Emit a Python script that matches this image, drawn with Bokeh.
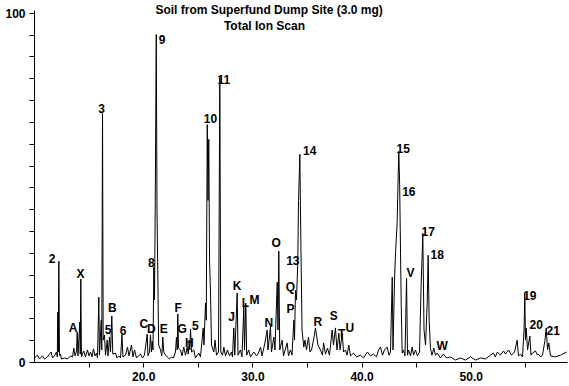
from bokeh.plotting import figure
from bokeh.models import FixedTicker, Label, ColumnDataSource, Range1d
from bokeh.core.properties import value
from bokeh.embed import file_html
from bokeh.resources import INLINE

# Total ion chromatogram trace: retention time (min) and relative intensity (%)
time_min = [
    10.00, 10.27, 10.46, 10.73, 10.92, 11.19, 11.37, 11.53, 11.65, 11.83,
    12.01, 12.09, 12.13, 12.18, 12.23, 12.29, 12.38, 12.47, 12.75, 13.02,
    13.30, 13.48, 13.60, 13.71, 13.85, 13.91, 13.98, 14.15, 14.19, 14.24,
    14.30, 14.51, 14.67, 14.85, 14.99, 15.13, 15.27, 15.40, 15.54, 15.68,
    15.77, 15.89, 15.95, 16.11, 16.16, 16.23, 16.29, 16.41, 16.50, 16.66,
    16.73, 16.87, 16.96, 17.08, 17.17, 17.42, 17.55, 17.72, 17.88, 18.01,
    18.10, 18.33, 18.52, 18.65, 18.88, 19.02, 19.16, 19.34, 19.52, 19.71,
    19.89, 20.07, 20.32, 20.39, 20.53, 20.62, 20.71, 20.78, 20.85, 20.93,
    20.99, 21.06, 21.15, 21.22, 21.29, 21.37, 21.54, 21.66, 21.75, 21.84,
    22.00, 22.15, 22.36, 22.55, 22.73, 22.91, 23.00, 23.07, 23.12, 23.19,
    23.37, 23.51, 23.67, 23.83, 23.98, 24.08, 24.17, 24.22, 24.29, 24.38,
    24.59, 24.74, 25.05, 25.20, 25.45, 25.52, 25.66, 25.73, 25.82, 25.89,
    25.96, 26.03, 26.12, 26.21, 26.42, 26.53, 26.67, 26.85, 26.97, 27.06,
    27.22, 27.34, 27.49, 27.67, 27.86, 28.04, 28.13, 28.25, 28.34, 28.56,
    28.64, 28.86, 29.00, 29.17, 29.23, 29.35, 29.43, 29.62, 29.78, 30.08,
    30.33, 30.51, 30.70, 30.83, 31.06, 31.31, 31.38, 31.61, 31.70, 31.92,
    32.02, 32.23, 32.30, 32.37, 32.46, 32.68, 32.80, 33.14, 33.26, 33.44,
    33.58, 33.75, 33.81, 33.90, 33.99, 34.11, 34.18, 34.30, 34.39, 34.50,
    34.66, 34.77, 34.91, 35.09, 35.23, 35.37, 35.55, 35.73, 35.96, 36.19,
    36.37, 36.47, 36.65, 36.83, 37.01, 37.26, 37.38, 37.56, 37.70, 37.87,
    37.98, 38.18, 38.30, 38.48, 38.62, 38.78, 38.94, 39.21, 39.49, 39.85,
    40.13, 40.49, 40.77, 41.04, 41.32, 41.50, 41.68, 41.87, 42.05, 42.30,
    42.46, 42.60, 42.76, 42.83, 42.97, 43.06, 43.21, 43.29, 43.36, 43.44,
    43.52, 43.58, 43.67, 43.79, 43.93, 44.07, 44.16, 44.25, 44.43, 44.59,
    44.71, 44.89, 45.07, 45.26, 45.41, 45.50, 45.56, 45.67, 45.81, 45.96,
    46.05, 46.14, 46.26, 46.40, 46.57, 46.72, 46.88, 47.18, 47.45, 47.73,
    48.10, 48.55, 49.01, 49.47, 49.93, 50.38, 50.84, 51.30, 51.76, 52.03,
    52.20, 52.39, 52.66, 52.95, 53.13, 53.41, 53.68, 53.96, 54.20, 54.32,
    54.51, 54.69, 54.83, 54.90, 54.96, 55.03, 55.15, 55.36, 55.47, 55.60,
    55.88, 56.06, 56.15, 56.34, 56.52, 56.75, 56.86, 56.98, 57.10, 57.25,
    57.71, 58.17, 58.72,
]
intensity = [
    1.3, 2.1, 1.0, 1.9, 1.0, 1.6, 2.4, 3.0, 1.3, 1.9,
    3.0, 1.6, 14.4, 3.0, 29.0, 1.9, 2.4, 1.0, 1.3, 1.0,
    1.9, 1.6, 4.1, 1.9, 3.3, 8.7, 1.9, 11.6, 2.4, 23.9,
    1.6, 3.3, 1.6, 3.6, 1.9, 3.0, 1.6, 3.9, 1.9, 2.7,
    1.3, 18.7, 2.1, 12.1, 3.6, 71.3, 6.4, 7.9, 2.1, 6.4,
    1.9, 7.3, 3.0, 13.3, 2.4, 2.7, 1.3, 1.9, 1.3, 7.9,
    1.6, 2.1, 4.4, 1.9, 5.0, 1.6, 3.6, 1.3, 1.9, 2.4,
    1.3, 2.1, 8.1, 1.9, 3.0, 7.9, 3.0, 6.1, 3.6, 27.3,
    17.9, 46.4, 93.9, 43.6, 25.6, 5.0, 3.6, 1.9, 7.3, 3.0,
    2.1, 1.6, 1.0, 1.6, 1.3, 3.0, 7.3, 3.6, 13.9, 4.1,
    3.6, 1.9, 4.4, 2.1, 4.4, 2.4, 6.4, 3.6, 9.6, 3.0,
    3.6, 1.3, 2.7, 1.6, 9.9, 5.0, 17.0, 12.1, 68.1, 46.4,
    63.9, 29.3, 19.9, 5.0, 3.0, 6.4, 2.1, 3.0, 81.6, 3.0,
    2.1, 4.4, 1.9, 3.6, 1.9, 3.0, 1.6, 9.9, 2.1, 19.9,
    2.1, 3.6, 1.6, 15.9, 3.6, 17.0, 2.1, 3.6, 1.6, 3.0,
    1.9, 2.7, 4.4, 1.9, 5.0, 9.3, 3.6, 10.1, 3.0, 7.3,
    3.6, 23.0, 9.3, 31.9, 3.6, 6.4, 1.9, 5.6, 1.9, 3.6,
    2.1, 12.1, 6.4, 20.7, 17.9, 28.4, 46.4, 59.6, 35.0, 9.3,
    4.4, 6.4, 3.6, 7.3, 3.0, 3.6, 6.4, 9.9, 5.0, 3.6,
    2.1, 5.6, 2.4, 4.1, 2.1, 9.3, 5.0, 9.9, 3.6, 8.4,
    3.6, 8.4, 3.0, 3.6, 2.1, 5.0, 1.9, 2.7, 1.6, 2.1,
    1.3, 3.0, 1.9, 2.4, 1.6, 3.6, 4.4, 2.1, 3.6, 4.4,
    2.1, 3.0, 24.4, 3.6, 23.6, 31.3, 39.9, 51.6, 60.4, 50.7,
    31.3, 17.0, 2.7, 3.6, 1.9, 24.1, 2.1, 3.6, 1.9, 4.4,
    2.1, 3.6, 1.9, 3.0, 22.7, 30.7, 37.0, 9.3, 5.0, 17.0,
    30.7, 12.1, 4.1, 2.1, 4.1, 2.1, 2.7, 1.3, 2.4, 1.3,
    1.6, 0.7, 1.3, 0.7, 1.6, 0.7, 1.3, 1.0, 2.1, 2.7,
    1.6, 3.0, 2.1, 3.3, 2.4, 3.6, 2.1, 3.0, 6.4, 1.9,
    2.4, 1.6, 9.3, 19.9, 6.4, 9.9, 3.6, 7.6, 2.1, 2.7,
    3.3, 2.1, 2.4, 1.6, 2.1, 6.4, 9.9, 3.6, 5.6, 1.9,
    1.6, 2.1, 3.0,
]

# Peak annotations
peak_labels = ["2", "X", "3", "9", "8", "A", "B", "5", "6", "C", "D", "E", "F", "G",
               "5", "H", "10", "11", "14", "O", "13", "Q", "P", "K", "L", "M", "J",
               "N", "R", "S", "T", "U", "15", "16", "17", "18", "V", "W", "19", "20", "21"]
label_time = [11.62, 14.21, 16.14, 21.69, 20.71, 13.54, 17.12, 16.75, 18.12, 20.01,
              20.69, 21.84, 23.16, 23.53, 24.74, 24.19, 26.12, 27.34, 35.21, 32.13,
              33.66, 33.44, 33.44, 28.56, 29.32, 30.15, 28.04, 31.46, 35.94, 37.41,
              38.12, 38.88, 43.77, 44.28, 46.05, 46.88, 44.43, 47.34, 55.36, 55.94, 57.50]
label_int = [29.8, 25.2, 72.6, 92.6, 28.5, 9.8, 15.5, 9.5, 9.3, 10.9,
             9.5, 9.5, 15.7, 9.5, 10.7, 5.5, 69.8, 81.0, 60.7, 34.2,
             29.3, 21.5, 15.2, 21.9, 16.9, 17.9, 12.9, 11.2, 11.7, 13.3,
             8.1, 9.8, 61.2, 49.0, 37.4, 31.0, 25.5, 4.7, 19.3, 11.0, 9.3]

x_major_ticks = [20, 30, 40, 50]
x_minor_ticks = [15, 25, 35, 45, 55]
y_major_ticks = [0, 100]
y_minor_ticks = [6.25, 12.5, 18.75, 25, 31.25, 37.5, 43.75, 50, 56.25,
                 62.5, 68.75, 75, 81.25, 87.5, 93.75]

title_text = "Soil from Superfund Dump Site (3.0 mg)"
subtitle_text = "Total Ion Scan"

FONT = "Liberation Sans"

p = figure(width=569, height=386, output_backend="svg", toolbar_location=None,
           x_range=Range1d(10, 58.81), y_range=Range1d(0, 103.64),
           min_border_left=34, min_border_right=2, min_border_top=0,
           min_border_bottom=24)
p.background_fill_color = "white"
p.border_fill_color = "white"
p.outline_line_color = None
p.grid.visible = False

p.line(time_min, intensity, line_color="black", line_width=1, line_join="round")

src = ColumnDataSource(dict(x=label_time, y=label_int, t=peak_labels))
p.text(x="x", y="y", text="t", source=src, text_font=value(FONT),
       text_font_style="bold", text_font_size="12px", text_color="black",
       text_align="center", text_baseline="middle")

p.add_layout(Label(x=31.48, y=100.9, text=title_text, text_align="center",
                   text_baseline="middle", text_font=FONT, text_font_style="bold",
                   text_font_size="12px", text_color="black"))
p.add_layout(Label(x=31.06, y=96.2, text=subtitle_text, text_align="center",
                   text_baseline="middle", text_font=FONT, text_font_style="bold",
                   text_font_size="12px", text_color="black"))

for ax in (p.xaxis[0], p.yaxis[0]):
    ax.axis_line_color = "black"
    ax.axis_line_width = 1
    ax.major_tick_line_color = "black"
    ax.minor_tick_line_color = "black"
    ax.major_tick_in = 0
    ax.minor_tick_in = 0
    ax.major_label_text_font = FONT
    ax.major_label_text_font_style = "bold"
    ax.major_label_text_font_size = "12px"
    ax.major_label_text_color = "black"

p.xaxis.ticker = FixedTicker(ticks=x_major_ticks, minor_ticks=x_minor_ticks)
p.xaxis.major_label_overrides = {v: f"{v:.1f}" for v in x_major_ticks}
p.xaxis.major_tick_out = 5
p.xaxis.minor_tick_out = 5
p.xaxis.major_label_standoff = 4

p.yaxis.ticker = FixedTicker(ticks=y_major_ticks, minor_ticks=y_minor_ticks)
p.yaxis.bounds = (0, 100.8)
p.yaxis.major_tick_out = 5
p.yaxis.minor_tick_out = 5
p.yaxis.major_label_standoff = 4

open("out.html", "w").write(file_html(p, INLINE))
